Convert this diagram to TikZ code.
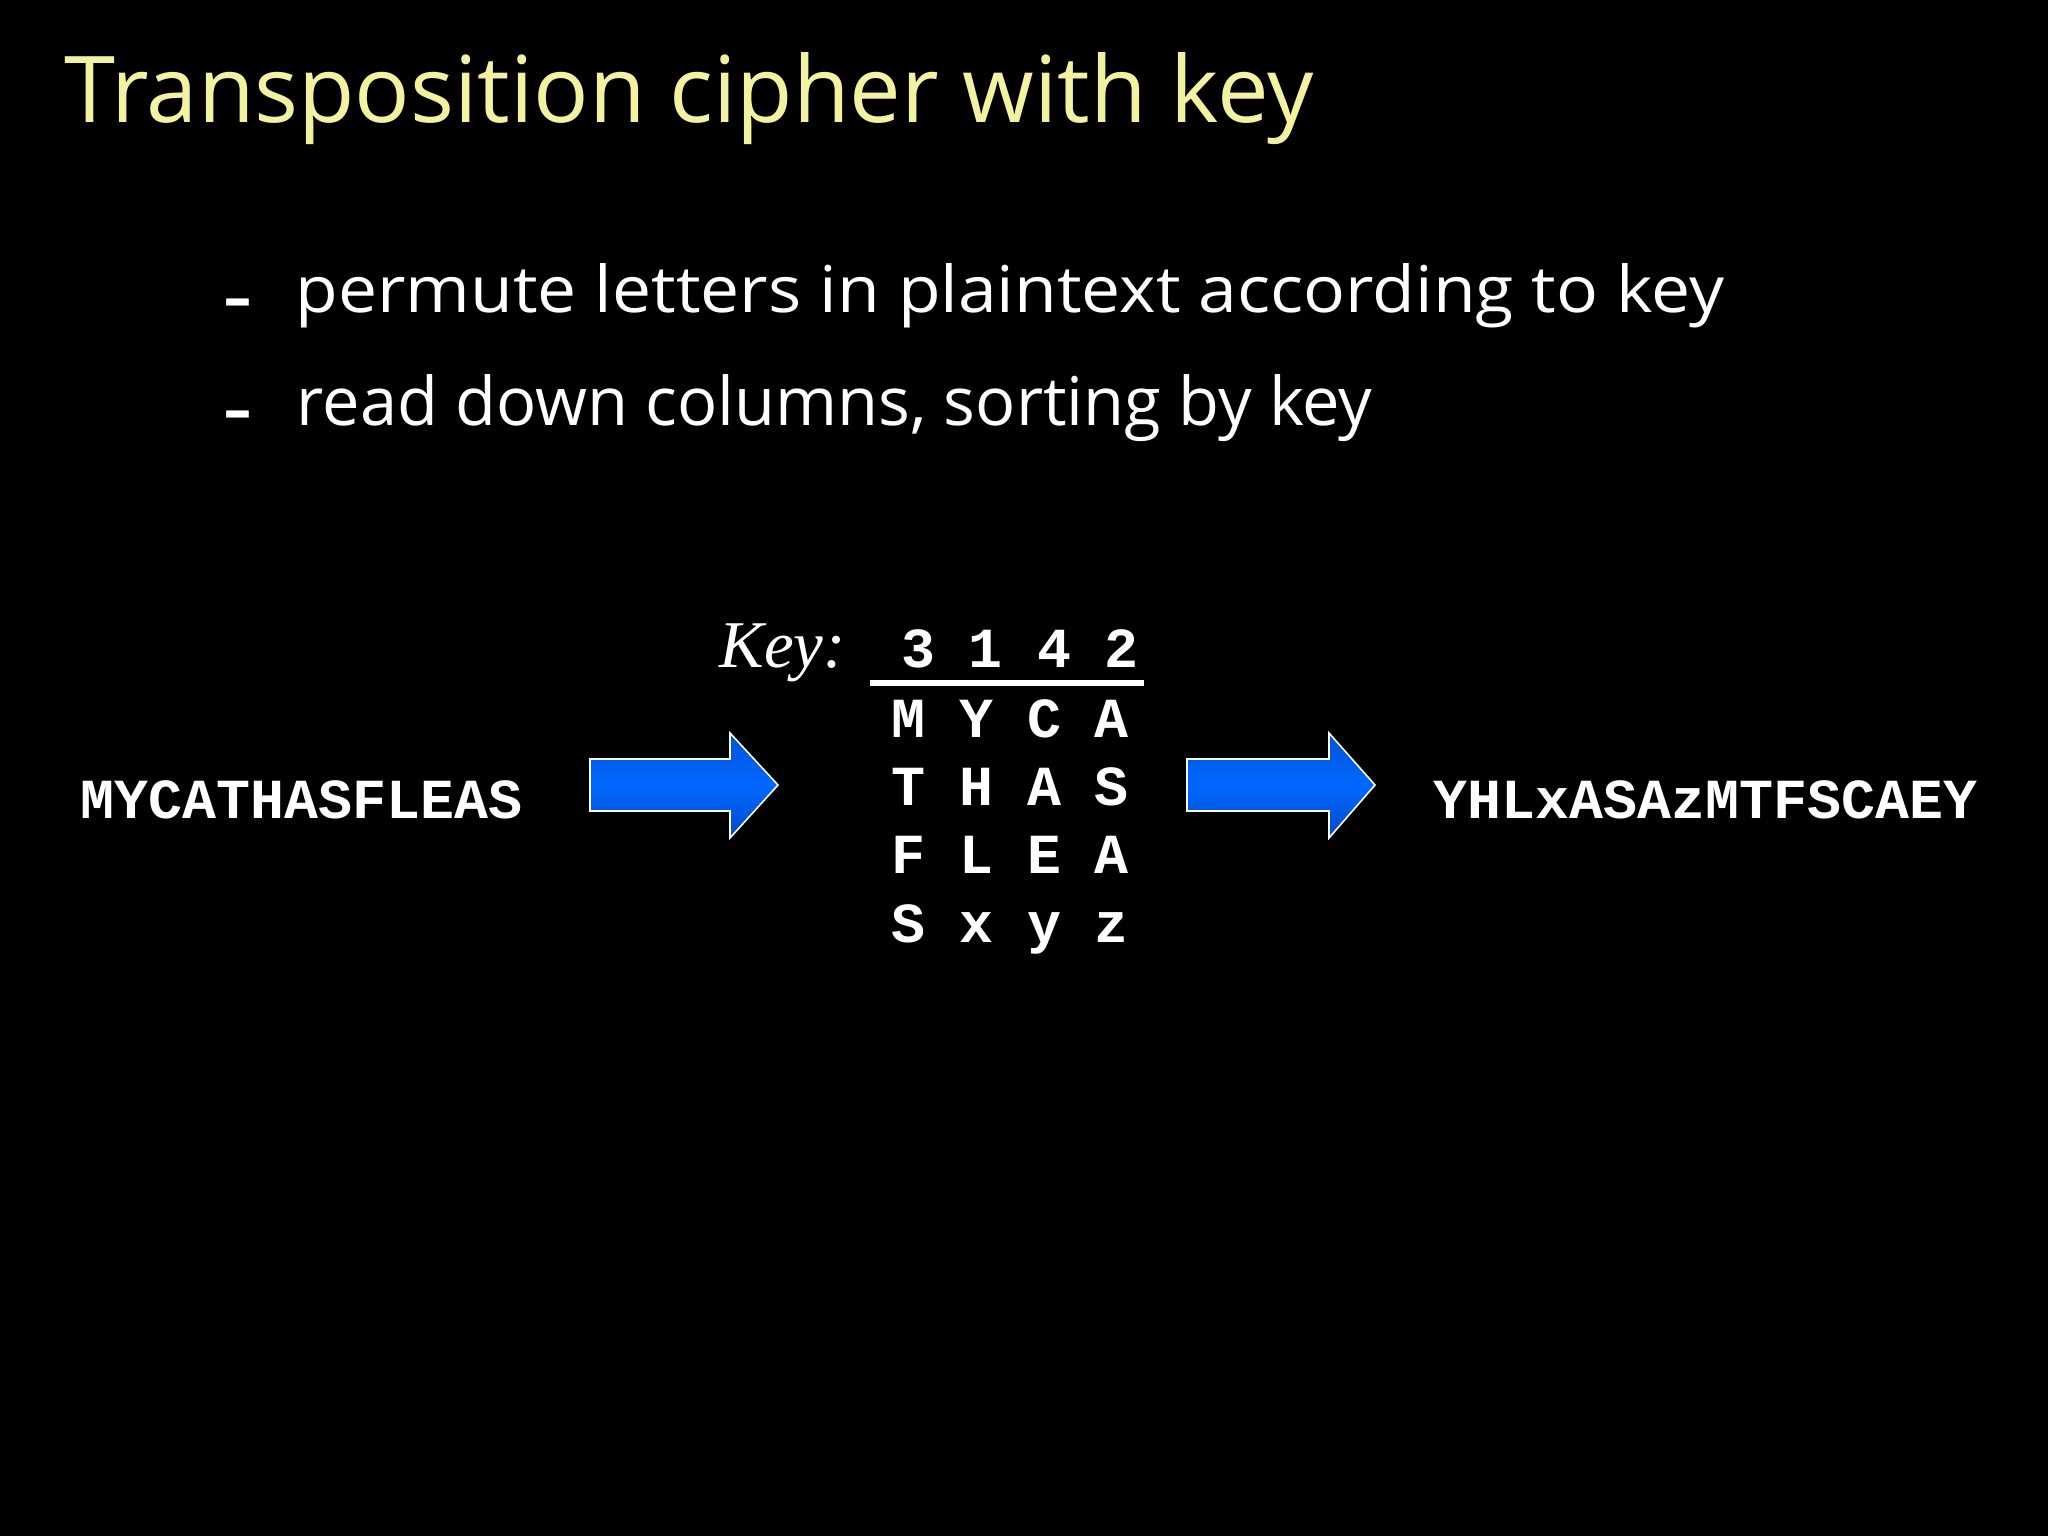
\documentclass[tikz,border=0pt]{standalone}
\usepackage{fontspec}
\usepackage{graphicx}
\setmainfont{Liberation Serif}
\newfontfamily\comicfont{Open Sans}
\newfontfamily\courfont{Liberation Mono}
\definecolor{titleyellow}{RGB}{242,242,160}
\definecolor{arrowtop}{RGB}{0,82,214}
\definecolor{arrowmid}{RGB}{0,104,255}
\definecolor{arrowbot}{RGB}{0,74,200}
\tikzset{
  slidetitle/.style={anchor=base west, inner sep=0pt, text=titleyellow, font=\comicfont},
  bullettext/.style={anchor=base west, inner sep=0pt, text=white, font=\comicfont},
  bulletdash/.style={anchor=center, inner sep=0pt, text=white, font=\comicfont\bfseries\fontsize{18}{18}\selectfont},
  mono/.style={inner sep=0pt, text=white, font=\courfont\bfseries\fontsize{16.1}{16.1}\selectfont},
  cell/.style={mono, anchor=base},
  keylabel/.style={anchor=base west, inner sep=0pt, text=white, font=\itshape\fontsize{19}{19}\selectfont},
  blockarrow/.style={draw=white, line width=0.45pt, top color=arrowtop, bottom color=arrowbot, middle color=arrowmid},
  keyrule/.style={draw=white, line width=1.7pt}
}
\begin{document}
\begin{tikzpicture}[x=0.01cm, y=-0.01cm]
  \fill[black] (0,0) rectangle (2048,1536);
  \useasboundingbox (0,0) rectangle (2048,1536);

  % title
  \node[slidetitle] (title) at (64,122) {\resizebox{12.48cm}{0.70cm}{Transposition cipher with key}};

  % bullets
  \node[bulletdash] (d1) at (238,309) {\scalebox{0.85}[1]{–}};
  \node[bullettext] (b1) at (295,312) {\resizebox{14.28cm}{0.49cm}{permute letters in plaintext according to key}};
  \node[bulletdash] (d2) at (238,421) {\scalebox{0.85}[1]{–}};
  \node[bullettext] (b2) at (296,425) {\resizebox{10.75cm}{0.51cm}{read down columns, sorting by key}};

  % plaintext and ciphertext
  \node[mono, anchor=base west] (plain) at (80,818) {MYCATHASFLEAS};
  \node[mono, anchor=base west] (cipher) at (1433,818) {YHLxASAzMTFSCAEY};

  % key
  \node[keylabel] (key) at (719,667) {Key:};
  \node[cell] (k1) at (918,667) {3};
  \node[cell] (k2) at (985,667) {1};
  \node[cell] (k3) at (1054,667) {4};
  \node[cell] (k4) at (1121,667) {2};
  \coordinate (ruleL) at (870,683);
  \coordinate (ruleR) at (1144,683);
  \draw[keyrule] (ruleL) -- (ruleR);

  % grid
  \foreach \r/\y/\a/\b/\c/\d in {1/737/M/Y/C/A, 2/805/T/H/A/S, 3/873/F/L/E/A, 4/942/S/x/y/z}{
    \node[cell] (g\r1) at (908,\y) {\a};
    \node[cell] (g\r2) at (976,\y) {\b};
    \node[cell] (g\r3) at (1044,\y) {\c};
    \node[cell] (g\r4) at (1111,\y) {\d};
  }

  % block arrows
  \path[blockarrow] (590,759) -- (730,759) -- (730,733) -- (778,785) -- (730,838) -- (730,811) -- (590,811) -- cycle;
  \path[blockarrow] (1187,759) -- (1329,759) -- (1329,733) -- (1375,785) -- (1329,838) -- (1329,811) -- (1187,811) -- cycle;
\end{tikzpicture}
\end{document}
